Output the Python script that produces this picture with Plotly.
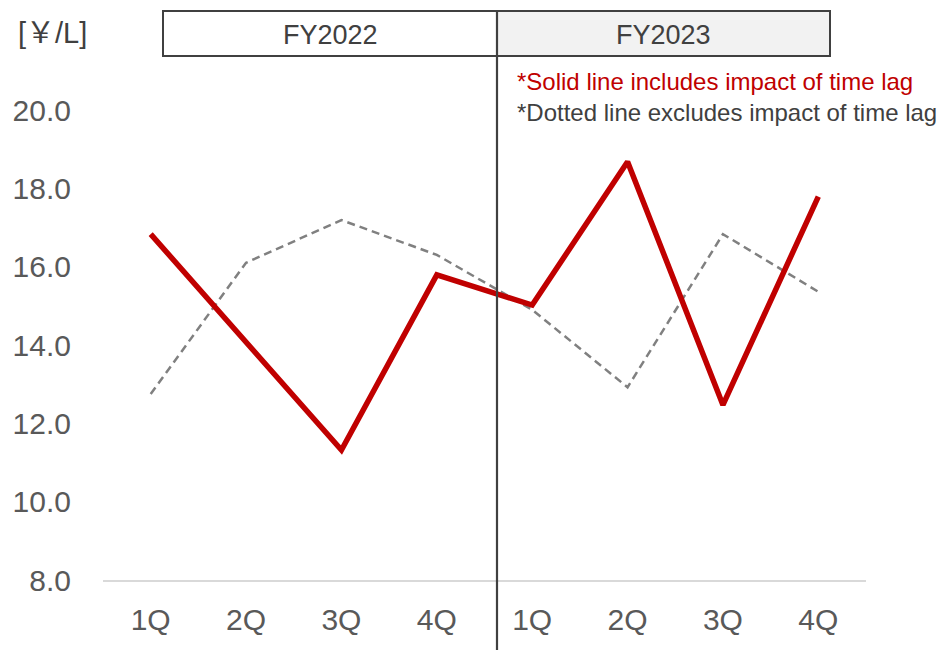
import plotly.graph_objects as go

# Quarterly figures (JPY per litre)
quarters = ["1Q", "2Q", "3Q", "4Q", "1Q", "2Q", "3Q", "4Q"]
with_time_lag = [16.83, 14.08, 11.32, 15.79, 15.02, 18.68, 12.47, 17.79]
without_time_lag = [12.75, 16.10, 17.19, 16.30, 14.90, 12.92, 16.83, 15.36]
fiscal_years = ["FY2022", "FY2023"]
y_ticks = [8.0, 10.0, 12.0, 14.0, 16.0, 18.0, 20.0]

positions = list(range(len(quarters)))

FONT = "Liberation Sans, Arial, Noto Sans CJK JP, sans-serif"
RED = "#c00000"
DARK = "#404040"
TICK = "#595959"

fig = go.Figure()

fig.add_trace(go.Scatter(
    x=positions, y=without_time_lag, mode="lines",
    line=dict(color="#808080", width=2.5, dash="8px,5px"),
    hoverinfo="skip", showlegend=False,
))
fig.add_trace(go.Scatter(
    x=positions, y=with_time_lag, mode="lines",
    line=dict(color=RED, width=5.5),
    hoverinfo="skip", showlegend=False,
))

W, H = 939, 650
L, R, T, B = 103, 73, 110, 70
pw, ph = W - L - R, H - T - B


def px(xp):
    return (xp - L) / pw


def py(yp):
    return (H - B - yp) / ph


split = px(497)
shapes = [
    # fiscal year header boxes
    dict(type="rect", xref="paper", yref="paper",
         x0=px(163), x1=split, y0=py(56), y1=py(11),
         line=dict(color=DARK, width=2), fillcolor="white", layer="above"),
    dict(type="rect", xref="paper", yref="paper",
         x0=split, x1=px(830), y0=py(56), y1=py(11),
         line=dict(color=DARK, width=2), fillcolor="#f2f2f2", layer="above"),
    # divider between fiscal years
    dict(type="line", xref="paper", yref="paper",
         x0=split, x1=split, y0=py(H + 5), y1=py(11),
         line=dict(color=DARK, width=2.2), layer="above"),
]


def label(text, xp, yp, size, color, xanchor="center"):
    return dict(text=text, xref="paper", yref="paper",
                x=px(xp), y=py(yp), xanchor=xanchor, yanchor="middle",
                showarrow=False, font=dict(family=FONT, size=size, color=color))


annotations = [
    label(fiscal_years[0], (163 + 497) / 2, 35, 27, DARK),
    label(fiscal_years[1], (497 + 830) / 2, 35, 27, DARK),
    label("[￥/L]", 16, 33, 29, DARK, "left"),
    label("*Solid line includes impact of time lag", 515, 82, 24, RED, "left"),
    label("*Dotted line excludes impact of time lag", 515, 113, 24, DARK, "left"),
]

fig.update_layout(
    width=W, height=H,
    margin=dict(l=L, r=R, t=T, b=B, pad=0),
    paper_bgcolor="white", plot_bgcolor="white",
    shapes=shapes, annotations=annotations,
    xaxis=dict(
        range=[-0.5, len(quarters) - 0.5],
        tickvals=positions, ticktext=quarters,
        showgrid=False, zeroline=False,
        showline=True, linecolor="#d9d9d9", linewidth=1.5,
        ticks="outside", ticklen=12, tickcolor="rgba(0,0,0,0)",
        tickfont=dict(family=FONT, size=30, color=TICK),
    ),
    yaxis=dict(
        range=[8, 20],
        tickvals=y_ticks, ticktext=[f"{v:.1f}" for v in y_ticks],
        showgrid=False, zeroline=False, showline=False,
        ticks="outside", ticklen=25, tickcolor="rgba(0,0,0,0)",
        tickfont=dict(family=FONT, size=30, color=TICK),
    ),
)

fig.write_html("out.html")
